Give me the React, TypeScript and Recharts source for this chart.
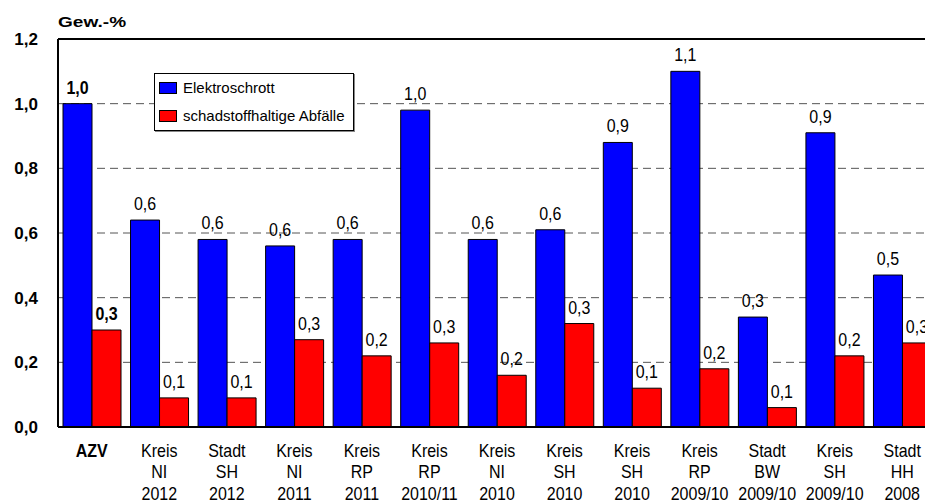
import {
  Bar,
  BarChart,
  CartesianGrid,
  LabelList,
  Legend,
  ReferenceLine,
  XAxis,
  YAxis,
} from "recharts";

// Regions, split into the three lines shown under each group
const regionTypes = ["AZV", "Kreis", "Stadt", "Kreis", "Kreis", "Kreis", "Kreis", "Kreis", "Kreis", "Kreis", "Stadt", "Kreis", "Stadt"];
const regionStates = ["", "NI", "SH", "NI", "RP", "RP", "NI", "SH", "SH", "RP", "BW", "SH", "HH"];
const regionYears = ["", "2012", "2012", "2011", "2011", "2010/11", "2010", "2010", "2010", "2009/10", "2009/10", "2009/10", "2008"];

// Gew.-% in the residual waste
const elektroschrott = [1.0, 0.64, 0.58, 0.56, 0.58, 0.98, 0.58, 0.61, 0.88, 1.1, 0.34, 0.91, 0.47];
const schadstoffe = [0.3, 0.09, 0.09, 0.27, 0.22, 0.26, 0.16, 0.32, 0.12, 0.18, 0.06, 0.22, 0.26];

const yTicks = [0, 0.2, 0.4, 0.6, 0.8, 1.0, 1.2];

const FONT = '"Liberation Sans", Arial, sans-serif';

const data = regionTypes.map((type, i) => ({
  key: i,
  lines: [type, regionStates[i], regionYears[i]].filter(Boolean),
  elektro: elektroschrott[i],
  schadstoff: schadstoffe[i],
}));

const fmt = (v: number) => v.toFixed(1).replace(".", ",");

// stretch text vertically around its own baseline
const tall = (y: number, k: number) => `translate(0 ${y}) scale(1 ${k}) translate(0 ${-y})`;

function CategoryTick({ x, y, payload }: any) {
  const row = data[payload.value];
  return (
    <g>
      {row.lines.map((line, i) => {
        const by = y + 22 + i * 21.5;
        return (
          <text
            key={i}
            x={x}
            y={by}
            transform={tall(by, 1.2)}
            textAnchor="middle"
            fontSize={16}
            fontFamily={FONT}
            fill="#000"
            fontWeight={payload.value === 0 ? "bold" : "normal"}
          >
            {line}
          </text>
        );
      })}
    </g>
  );
}

function ValueTick({ x, y, payload }: any) {
  return (
    <text x={x} y={y} dy={6} textAnchor="end" fontSize={17} fontWeight="bold" fontFamily={FONT} fill="#000">
      {fmt(payload.value)}
    </text>
  );
}

function BarValue({ x, y, width, value, index }: any) {
  const by = y - 10;
  return (
    <text
      x={x + width / 2}
      y={by}
      transform={tall(by, 1.12)}
      textAnchor="middle"
      fontSize={16}
      fontFamily={FONT}
      fontWeight={index === 0 ? "bold" : "normal"}
      fill="#000"
    >
      {fmt(value)}
    </text>
  );
}

function LegendBox({ payload }: any) {
  return (
    <div
      style={{
        background: "#fff",
        border: "1px solid #000",
        boxShadow: "1px 1px 0 #888",
        padding: "0 8px 0 4px",
        fontFamily: FONT,
        fontSize: 15,
        lineHeight: "28px",
      }}
    >
      {(payload || []).map((item: any) => (
        <div key={item.value} style={{ display: "flex", alignItems: "center", whiteSpace: "nowrap" }}>
          <span
            style={{
              display: "inline-block",
              width: 16,
              height: 10,
              background: item.color,
              border: "1px solid #000",
              marginRight: 6,
            }}
          />
          {item.value}
        </div>
      ))}
    </div>
  );
}

export default function App() {
  return (
    <div
      style={{
        position: "fixed",
        left: 0,
        top: 0,
        width: 925,
        height: 502,
        overflow: "hidden",
        background: "#fff",
      }}
    >
      <div
        style={{
          position: "absolute",
          left: 58,
          top: 13,
          fontFamily: FONT,
          fontWeight: "bold",
          fontSize: 15,
          transform: "scaleX(1.27)",
          transformOrigin: "left center",
          zIndex: 2,
        }}
      >
        Gew.-%
      </div>
      <BarChart
        width={960}
        height={502}
        data={data}
        margin={{ top: 39, right: 24, left: 0, bottom: 0 }}
        barCategoryGap={5}
        barGap={0}
      >
        <CartesianGrid vertical={false} stroke="#555" strokeDasharray="8 5" />
        <XAxis
          dataKey="key"
          height={75}
          axisLine={{ stroke: "#000", strokeWidth: 2 }}
          tickLine={false}
          tick={<CategoryTick />}
          interval={0}
        />
        <YAxis
          width={58}
          domain={[0, 1.2]}
          ticks={yTicks}
          axisLine={{ stroke: "#000", strokeWidth: 2 }}
          tickLine={false}
          tickMargin={14}
          tick={<ValueTick />}
        />
        <ReferenceLine y={1.2} stroke="#000" strokeWidth={2} />
        <Legend
          layout="vertical"
          align="center"
          verticalAlign="middle"
          wrapperStyle={{ position: "absolute", left: 154, top: 73, width: "auto" }}
          content={<LegendBox />}
        />
        <Bar dataKey="elektro" name="Elektroschrott" fill="#0000ff" stroke="#000" strokeWidth={1} isAnimationActive={false}>
          <LabelList dataKey="elektro" content={<BarValue />} />
        </Bar>
        <Bar dataKey="schadstoff" name="schadstoffhaltige Abfälle" fill="#ff0000" stroke="#000" strokeWidth={1} isAnimationActive={false}>
          <LabelList dataKey="schadstoff" content={<BarValue />} />
        </Bar>
      </BarChart>
    </div>
  );
}
